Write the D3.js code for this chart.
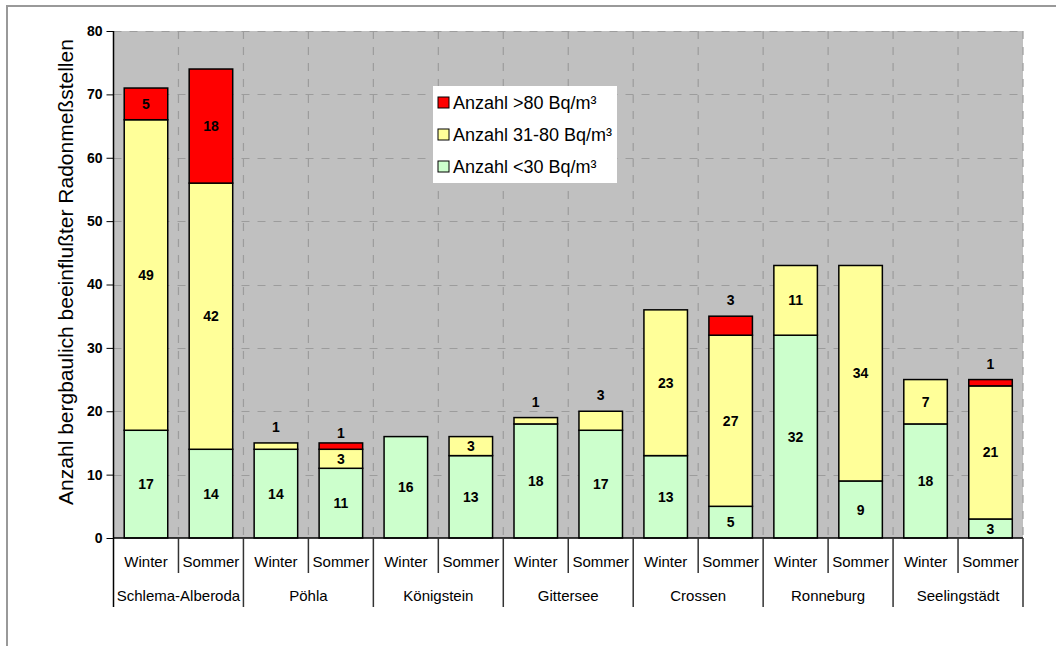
<!DOCTYPE html>
<html>
<head>
<meta charset="utf-8">
<script src="https://cdn.jsdelivr.net/npm/d3@7/dist/d3.min.js"></script>
<style>
  html, body { margin: 0; padding: 0; background: #fff; }
  svg { display: block; font-family: Arial, "Liberation Sans", sans-serif; }
</style>
</head>
<body>
<svg id="chart" width="1056" height="646"></svg>
<script>
// Measurement sites and seasons
const groups = ["Schlema-Alberoda", "Pöhla", "Königstein", "Gittersee", "Crossen", "Ronneburg", "Seelingstädt"];
const seasons = ["Winter", "Sommer"];

// Counts per bar (Winter, Sommer for each site in order)
const below30   = [17, 14, 14, 11, 16, 13, 18, 17, 13, 5, 32, 9, 18, 3];
const from31to80 = [49, 42, 1, 3, 0, 3, 1, 3, 23, 27, 11, 34, 7, 21];
const above80   = [5, 18, 0, 1, 0, 0, 0, 0, 0, 3, 0, 0, 0, 1];

const seriesNames = ["Anzahl <30 Bq/m³", "Anzahl 31-80 Bq/m³", "Anzahl >80 Bq/m³"];
const seriesColors = ["#ccffcc", "#ffff99", "#ff0000"];
const yTicks = [0, 10, 20, 30, 40, 50, 60, 70, 80];

// Value labels that sit above the bar instead of inside their segment: [bar, series]
const labelsAbove = [[2, 1], [3, 2], [6, 1], [7, 1], [9, 2], [13, 2]];

const rows = below30.map((v, i) => ({
  bar: i,
  group: groups[Math.floor(i / 2)],
  season: seasons[i % 2],
  s0: v, s1: from31to80[i], s2: above80[i]
}));

const svg = d3.select("#chart");
const W = 1056, H = 646;
const plot = { left: 113.5, right: 1023, top: 31, bottom: 538 };

// Outer frame
svg.append("rect").attr("x", 7).attr("y", 6).attr("width", W + 20).attr("height", H + 20)
  .attr("fill", "none").attr("stroke", "#999").attr("stroke-width", 2);

const x = d3.scaleBand().domain(rows.map(d => d.bar))
  .range([plot.left, plot.right]).paddingInner(0.33).paddingOuter(0.165);
const y = d3.scaleLinear().domain([0, 80]).range([plot.bottom, plot.top]);
const step = x.step();

// Plot background
svg.append("rect").attr("x", plot.left).attr("y", plot.top)
  .attr("width", plot.right - plot.left).attr("height", plot.bottom - plot.top)
  .attr("fill", "#c0c0c0");

// Dashed gridlines
const grid = svg.append("g").attr("stroke", "#9c9c9c").attr("stroke-width", 1.2)
  .attr("stroke-dasharray", "8,8");
grid.selectAll("line.h").data(yTicks.filter(t => t > 0)).join("line")
  .attr("x1", plot.left).attr("x2", plot.right)
  .attr("y1", d => Math.round(y(d)) + 0.5).attr("y2", d => Math.round(y(d)) + 0.5);
grid.selectAll("line.v").data(d3.range(1, rows.length + 1)).join("line")
  .attr("x1", i => plot.left + i * step).attr("x2", i => plot.left + i * step)
  .attr("y1", plot.top).attr("y2", plot.bottom);

// Stacked bars
const keys = ["s0", "s1", "s2"];
const stacked = d3.stack().keys(keys)(rows);
const barG = svg.append("g");
stacked.forEach((layer, si) => {
  barG.append("g").selectAll("rect").data(layer.filter(d => d[1] - d[0] > 0)).join("rect")
    .attr("x", d => x(d.data.bar)).attr("width", x.bandwidth())
    .attr("y", d => y(d[1])).attr("height", d => y(d[0]) - y(d[1]))
    .attr("fill", seriesColors[si]).attr("stroke", "#000").attr("stroke-width", 1.5);
});

// Value labels
const isAbove = (bar, si) => labelsAbove.some(([b, s]) => b === bar && s === si);
const labelG = svg.append("g").attr("font-size", 14).attr("font-weight", "bold")
  .attr("text-anchor", "middle").attr("fill", "#000");
stacked.forEach((layer, si) => {
  layer.filter(d => d[1] - d[0] > 0).forEach(d => {
    const bar = d.data.bar;
    const total = d.data.s0 + d.data.s1 + d.data.s2;
    let cy;
    if (isAbove(bar, si)) {
      const raise = (bar === 3) ? 10 : 16;
      cy = y(total) - raise;
    } else {
      cy = y((d[0] + d[1]) / 2);
    }
    labelG.append("text").attr("x", x(bar) + x.bandwidth() / 2).attr("y", cy)
      .attr("dy", "0.36em").text(d[1] - d[0]);
  });
});

// Y axis
const yAxis = svg.append("g").attr("transform", `translate(${plot.left},0)`)
  .call(d3.axisLeft(y).tickValues(yTicks).tickSize(7).tickPadding(4));
yAxis.select(".domain").remove();
yAxis.selectAll("line").attr("stroke", "#000");
yAxis.selectAll("text").attr("font-size", 14).attr("font-weight", "bold")
  .attr("font-family", "Arial, 'Liberation Sans', sans-serif").attr("fill", "#000");

// Axis lines
svg.append("line").attr("x1", plot.left).attr("x2", plot.left)
  .attr("y1", plot.top).attr("y2", 607).attr("stroke", "#000").attr("stroke-width", 1.5);
svg.append("line").attr("x1", plot.left).attr("x2", plot.right)
  .attr("y1", plot.bottom).attr("y2", plot.bottom).attr("stroke", "#000").attr("stroke-width", 1.5);

// Category axis: season separators, group separators, labels
const catG = svg.append("g").attr("stroke", "#333").attr("stroke-width", 1.5);
d3.range(1, rows.length + 1).forEach(i => {
  const xx = plot.left + i * step;
  const groupEdge = i % 2 === 0;
  catG.append("line").attr("x1", xx).attr("x2", xx)
    .attr("y1", plot.bottom).attr("y2", groupEdge ? 607 : 573);
});
svg.append("g").selectAll("text").data(rows).join("text")
  .attr("x", d => x(d.bar) + x.bandwidth() / 2).attr("y", 567)
  .attr("text-anchor", "middle").attr("font-size", 15).attr("fill", "#000")
  .text(d => d.season);
svg.append("g").selectAll("text").data(groups).join("text")
  .attr("x", (g, i) => plot.left + (i * 2 + 1) * step).attr("y", 601)
  .attr("text-anchor", "middle").attr("font-size", 15).attr("fill", "#000")
  .text(g => g);

// Y axis title
svg.append("text").attr("transform", "translate(73,272) rotate(-90)")
  .attr("text-anchor", "middle").attr("font-size", 21).attr("fill", "#000")
  .text("Anzahl bergbaulich beeinflußter Radonmeßstellen");

// Legend
const lg = svg.append("g").attr("transform", "translate(433,86)");
lg.append("rect").attr("width", 184).attr("height", 97).attr("fill", "#fff");
const legendOrder = [2, 1, 0];
legendOrder.forEach((si, r) => {
  const cy = 17 + r * 32;
  lg.append("rect").attr("x", 5).attr("y", cy - 6).attr("width", 11).attr("height", 11)
    .attr("fill", seriesColors[si]).attr("stroke", "#000").attr("stroke-width", 1);
  lg.append("text").attr("x", 20).attr("y", cy).attr("dy", "0.36em")
    .attr("font-size", 18).attr("fill", "#000").text(seriesNames[si]);
});
</script>
</body>
</html>
